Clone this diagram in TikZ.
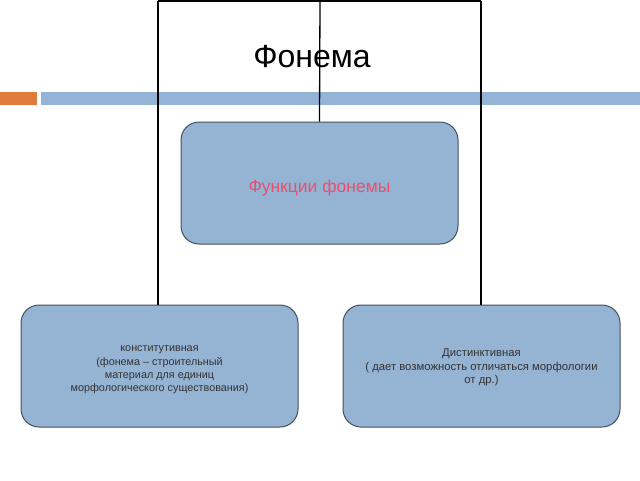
\documentclass[tikz,border=0pt]{standalone}
\usepackage{fontspec}
\setmainfont{Liberation Sans}
\definecolor{boxfill}{HTML}{95B3D3}
\definecolor{boxline}{HTML}{44505C}
\definecolor{barorange}{HTML}{E07B3C}
\definecolor{barblue}{HTML}{95B3D6}
\definecolor{redtxt}{HTML}{E8506E}
\definecolor{graytxt}{HTML}{333333}
\tikzset{
  roundbox/.style={draw=boxline, line width=1pt, fill=boxfill, rounded corners=18pt, minimum width=277pt, minimum height=122pt, align=center, inner sep=0pt},
  conn/.style={draw=black, line width=1.3pt},
  smalltxt/.style={text=graytxt, align=center, font=\fontsize{10.8}{13.2}\selectfont}
}
\begin{document}
\begin{tikzpicture}[x=1pt,y=-1pt]
\useasboundingbox (0,0) rectangle (640,480);
\fill[white] (0,0) rectangle (640,480);
% bars
\fill[barorange] (0,92) rectangle (37,105);
\fill[barblue] (41,92) rectangle (640,105);
% connectors
\coordinate (tl) at (158,1);
\coordinate (tc) at (320,1);
\coordinate (tr) at (481,1);
\node[roundbox, label={[yshift=-4.5pt, text=redtxt, font=\fontsize{17.5}{20}\selectfont]center:Функции фонемы}] (center) at (319.5,183) {};
\node[roundbox, label={[yshift=-4pt, smalltxt]center:конститутивная\\(фонема – строительный\\материал для единиц\\морфологического существования)}] (left) at (159.5,366) {};
\node[roundbox, label={[yshift=-1.5pt, smalltxt, font=\fontsize{11.3}{13.5}\selectfont]center:Дистинктивная\\( дает возможность отличаться морфологии\\от др.)}] (right) at (481.5,366) {};
\draw[conn] (tl) -- (tr);
\draw[conn] (tc) -- (center.north);
\draw[conn] (tl) -- (tl |- left.north);
\draw[conn] (tr) -- (tr |- right.north);
% title
\node[font=\fontsize{32}{36}\selectfont, text=black] (title) at (312,57) {Фонема};
\end{tikzpicture}
\end{document}
